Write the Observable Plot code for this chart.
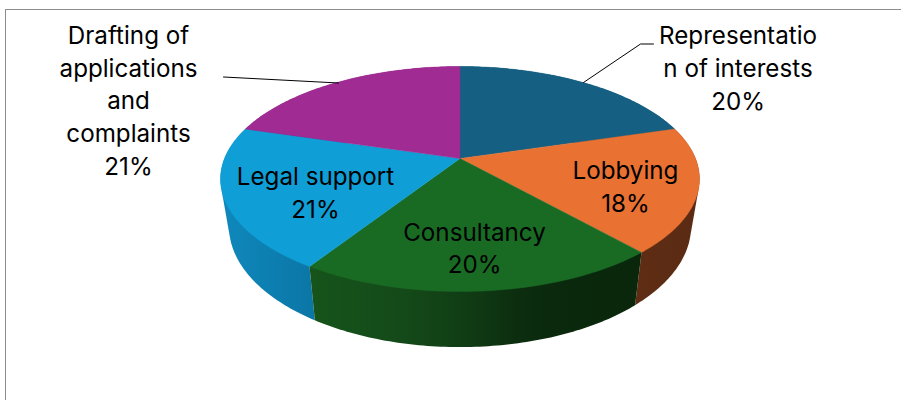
<!DOCTYPE html>
<html>
<head>
<meta charset="utf-8">
<script src="https://cdn.jsdelivr.net/npm/d3@7"></script>
<script src="https://cdn.jsdelivr.net/npm/@observablehq/plot@0.6"></script>
<style>
html,body{margin:0;padding:0;background:#fff;overflow:hidden}
#wrap{position:relative;width:901px;height:400px}
#frame{position:absolute;left:5px;top:9px;right:-5px;bottom:-5px;border-left:1.5px solid #8c8c8c;border-top:1.5px solid #8c8c8c}
svg{position:absolute;left:0;top:0;display:block;background:transparent}
</style>
</head>
<body>
<div id="wrap"><div id="frame"></div><div id="chart"></div></div>
<script>
const categories = ["Representation of interests","Lobbying","Consultancy","Legal support","Drafting of applications and complaints"];
const shares = [20.4, 18.0, 20.7, 20.5, 20.4];
const percentLabels = ["20%","18%","20%","21%","21%"];
const topColors = ["#156082","#E97132","#196B24","#0F9ED5","#A02B93"];
const labelLines = ["Representatio\nn of interests\n20%","Lobbying\n18%","Consultancy\n20%","Legal support\n21%","Drafting of\napplications\nand\ncomplaints\n21%"];
const labelX = [737.5,625,474,315,128];
const labelY = [66,184.5,246,190.5,98.5];

// side shading: [x, colour] stops per slice
const sideStops = [
  [[220,"#0f4a66"],[700,"#0f4a66"]],
  [[630,"#5f2d14"],[700,"#5a2a13"]],
  [[310,"#16541b"],[400,"#144a19"],[459,"#113e15"],[520,"#0c2d0f"],[570,"#0a280c"],[640,"#0a270c"]],
  [[220,"#0f88bc"],[315,"#0b76a6"]],
  [[220,"#7a2070"],[700,"#7a2070"]]
];

// projected disc: apex, half-axes, perspective
const cx=459.5, apexY=158, a=235.5, b=108.8, k=0.1822;
const topCy=178.5, topRy=112, topRx=239.5, botCy=226, botRy=120, botRx=231;
function topPoint(t){ // t = percent of turn clockwise from 12 o'clock
  const th=t/100*2*Math.PI, u=Math.sin(th), v=Math.cos(th), w=1+k*v;
  return [cx+a*u/w, apexY-b*v/w];
}
function botPoint(p){
  return [cx+(p[0]-cx)*botRx/topRx, botCy+(p[1]-topCy)*botRy/topRy];
}
const cum=d3.cumsum(shares);
const starts=shares.map((s,i)=>cum[i]-s);

const capPts=[], sidePts=[];
const paintOrder=[0,4,1,3,2];
paintOrder.forEach(i=>{
  const s=shares[i], n=Math.round(s*4), arc=[];
  for(let j=0;j<=n;j++) arc.push(topPoint(starts[i]+s*j/n));
  const hull=d3.polygonHull(arc.concat(arc.map(botPoint)));
  hull.concat([hull[0]]).forEach(p=>sidePts.push({x:p[0],y:p[1],id:"s"+i}));
});
shares.forEach((s,i)=>{
  const n=Math.round(s*4);
  capPts.push({x:cx,y:apexY,id:"c"+i,c:topColors[i]});
  for(let j=0;j<=n;j++){
    const p=topPoint(starts[i]+s*j/n);
    capPts.push({x:p[0],y:p[1],id:"c"+i,c:topColors[i]});
  }
  capPts.push({x:cx,y:apexY,id:"c"+i,c:topColors[i]});
});

const leaderRep=[{x:583,y:82},{x:640,y:43.5},{x:653,y:43.5}];
const leaderDraft=[{x:223,y:76.5},{x:338,y:82.5}];
const labels=labelLines.map((t,i)=>({t,x:labelX[i],y:labelY[i]}));

function gradients(){
  const defs=d3.create("svg:defs");
  sideStops.forEach((stops,i)=>{
    const x0=stops[0][0], x1=stops[stops.length-1][0];
    const g=defs.append("linearGradient").attr("id",`side${i}`)
      .attr("gradientUnits","userSpaceOnUse").attr("x1",x0).attr("x2",x1).attr("y1",0).attr("y2",0);
    stops.forEach(d=>g.append("stop").attr("offset",(d[0]-x0)/(x1-x0)).attr("stop-color",d[1]));
  });
  return defs.node();
}

function sideMark(i){
  return Plot.line(sidePts.filter(d=>d.id==="s"+i),{x:"x",y:"y",fill:`url(#side${i})`,stroke:"none",curve:"linear"});
}

const plot=Plot.plot({
  width:901,height:400,margin:0,
  x:{domain:[0,901],range:[0,901],axis:null},
  y:{domain:[0,400],range:[0,400],axis:null},
  color:{type:"identity"},
  style:{background:"transparent"},
  marks:[
    gradients,
    ...paintOrder.map(sideMark),
    Plot.line(capPts,{x:"x",y:"y",z:"id",fill:"c",stroke:"c",strokeWidth:0.4,curve:"linear"}),
    Plot.line(leaderRep,{x:"x",y:"y",stroke:"#000",strokeWidth:1}),
    Plot.line(leaderDraft,{x:"x",y:"y",stroke:"#000",strokeWidth:1}),
    Plot.text(labels,{x:"x",y:"y",text:"t",fontSize:24.2,lineHeight:1.35,fill:"#000",fontFamily:"Inter",textAnchor:"middle"})
  ]
});
document.getElementById("chart").appendChild(plot);
</script>
</body>
</html>
